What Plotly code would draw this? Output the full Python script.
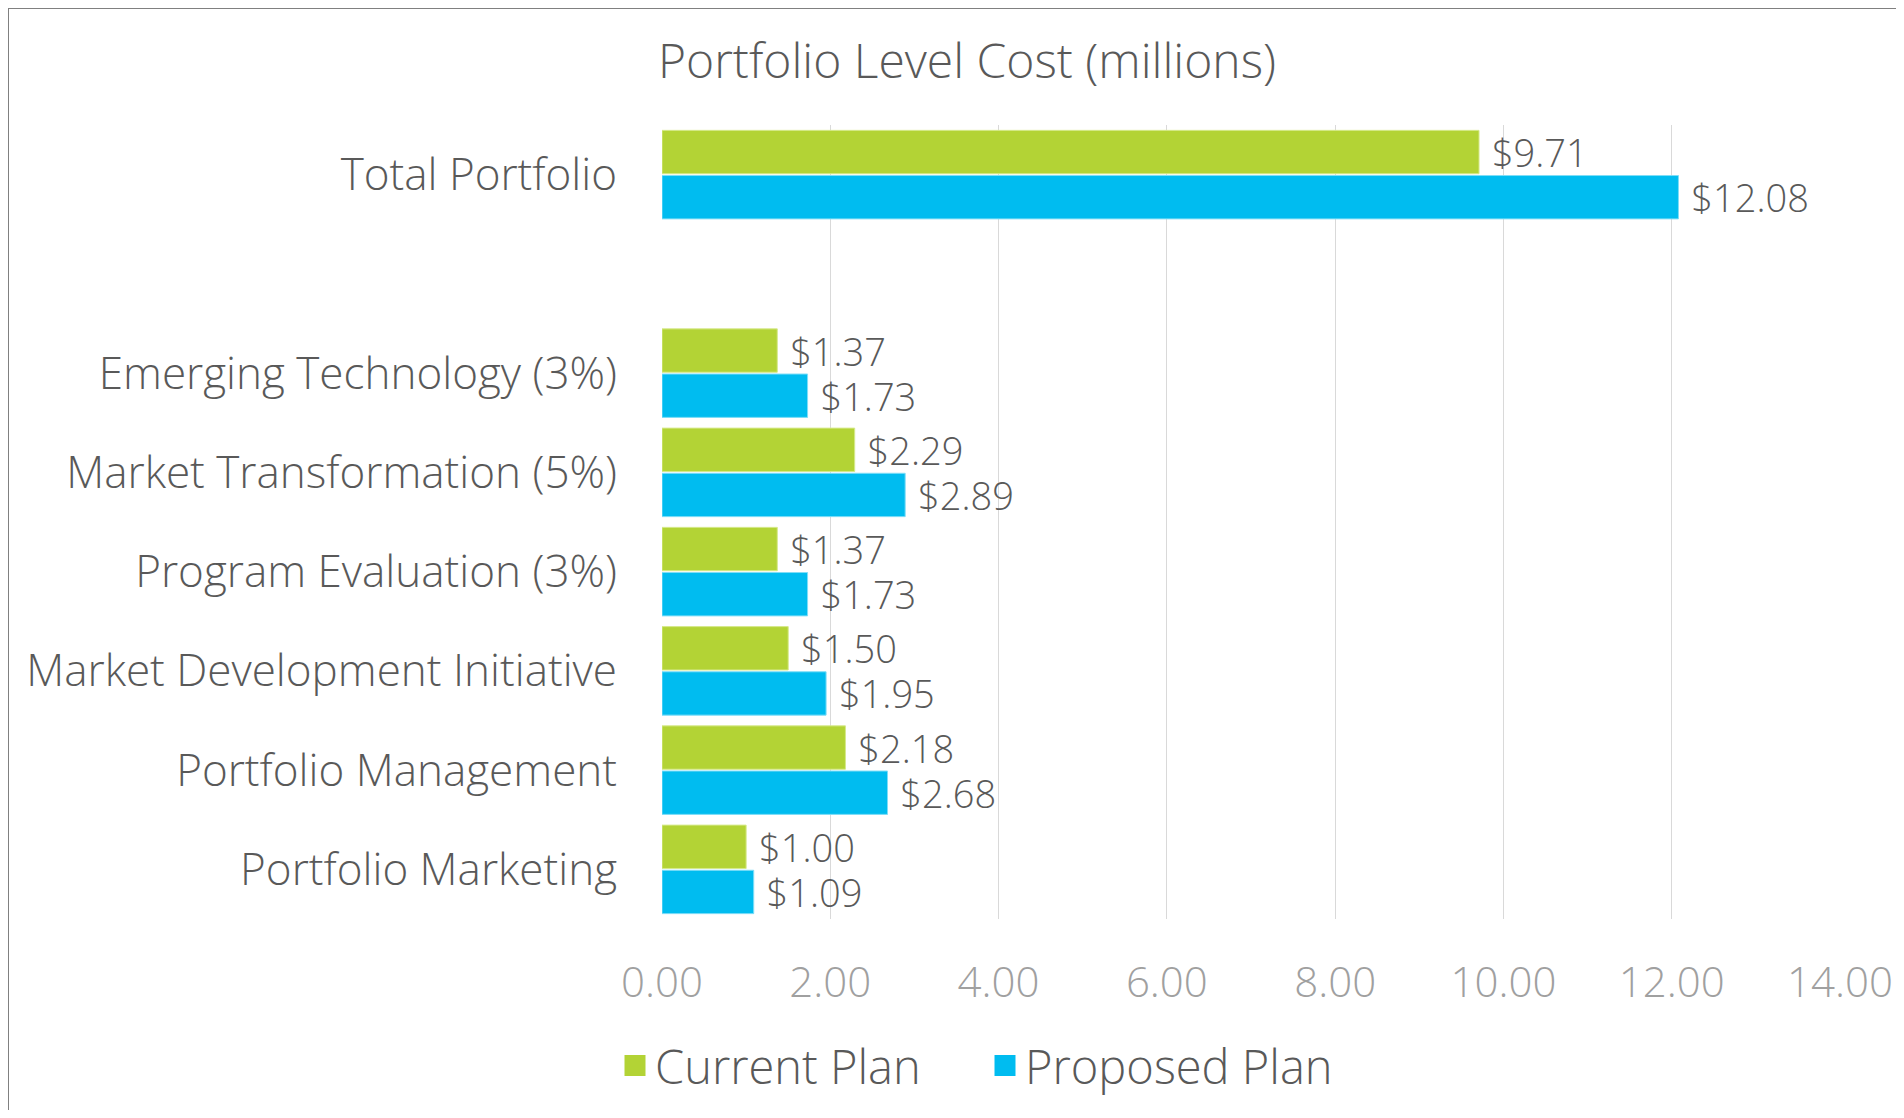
import plotly.graph_objs as go

# categories, top to bottom (blank row separates the total from the parts)
categories = [
    "Total Portfolio",
    " ",
    "Emerging Technology (3%)",
    "Market Transformation (5%)",
    "Program Evaluation (3%)",
    "Market Development Initiative",
    "Portfolio Management",
    "Portfolio Marketing",
]
current_plan = [9.71, None, 1.37, 2.29, 1.37, 1.50, 2.18, 1.00]
proposed_plan = [12.08, None, 1.73, 2.89, 1.73, 1.95, 2.68, 1.09]
x_ticks = [0, 2, 4, 6, 8, 10, 12, 14]

FONT = "Open Sans"
TEXT_COLOR = "#595959"
GREEN = "#B3D335"
BLUE = "#00BCF0"

# figure size (page body keeps an 8px margin)
W, H = 1888, 1102
ML, MR, MT, MB = 654, 56, 117, 191
pw, ph = W - ML - MR, H - MT - MB


def px_to_paper_x(px):
    return (px - ML) / pw


def px_to_paper_y(py):
    return (H - MB - py) / ph


fig = go.Figure()

for name, vals, color, edge in [("Current Plan", current_plan, GREEN, "#D6E98A"),
                                ("Proposed Plan", proposed_plan, BLUE, "#7FDDF7")]:
    fig.add_trace(go.Bar(
        y=categories, x=vals, name=name, orientation="h", showlegend=False,
        marker={"color": color, "line": {"color": edge, "width": 1}},
        texttemplate="\u00a0$%{x:.2f}", textposition="outside",
        textfont={"family": FONT, "size": 38, "color": TEXT_COLOR, "weight": 300},
        constraintext="none", cliponaxis=False,
    ))
    # legend entry with a bigger square swatch
    fig.add_trace(go.Scatter(
        x=[None], y=[None], name=name, mode="markers",
        marker={"symbol": "square", "size": 16, "color": color,
                "line": {"color": color, "width": 5}},
    ))

fig.update_layout(
    width=W, height=H,
    margin={"l": ML, "r": MR, "t": MT, "b": MB, "pad": 0, "autoexpand": False},
    paper_bgcolor="white", plot_bgcolor="white",
    barmode="group", bargap=0.09, bargroupgap=0.04,
    font={"family": FONT, "color": TEXT_COLOR, "size": 44, "weight": 300},
    title={
        "text": "Portfolio Level Cost (millions)",
        "x": px_to_paper_x(959), "xref": "paper", "xanchor": "center",
        "y": 1 - 53 / H, "yanchor": "middle",
        "font": {"family": FONT, "size": 48, "color": TEXT_COLOR, "weight": 300},
    },
    legend={
        "orientation": "h", "x": px_to_paper_x(977), "xanchor": "center",
        "yref": "container", "y": 1 - 1058 / H, "yanchor": "middle",
        "font": {"family": FONT, "size": 47, "color": TEXT_COLOR, "weight": 300},
        "itemsizing": "trace", "itemwidth": 30,
        "entrywidth": 325, "entrywidthmode": "pixels",
    },
    showlegend=True,
    shapes=[{
        "type": "rect", "xref": "paper", "yref": "paper",
        "x0": px_to_paper_x(0), "x1": px_to_paper_x(W + 20),
        "y0": px_to_paper_y(H + 20), "y1": px_to_paper_y(0),
        "line": {"color": "#808080", "width": 2}, "layer": "below",
    }],
)

fig.update_xaxes(
    range=[0, 14], tickvals=x_ticks, tickformat=".2f",
    showgrid=True, gridcolor="#D9D9D9", gridwidth=1,
    zeroline=False, showline=False, ticks="", automargin=False,
    tickfont={"family": FONT, "size": 42, "color": "#A0A0A0", "weight": 300},
    ticklabelstandoff=35, fixedrange=True,
)
fig.update_yaxes(
    type="category", categoryorder="array", categoryarray=categories,
    autorange="reversed", showgrid=False, zeroline=False, showline=False,
    ticks="", automargin=False,
    tickfont={"family": FONT, "size": 44, "color": TEXT_COLOR, "weight": 300},
    ticklabelstandoff=44, fixedrange=True,
)

fig.write_html("out.html")
